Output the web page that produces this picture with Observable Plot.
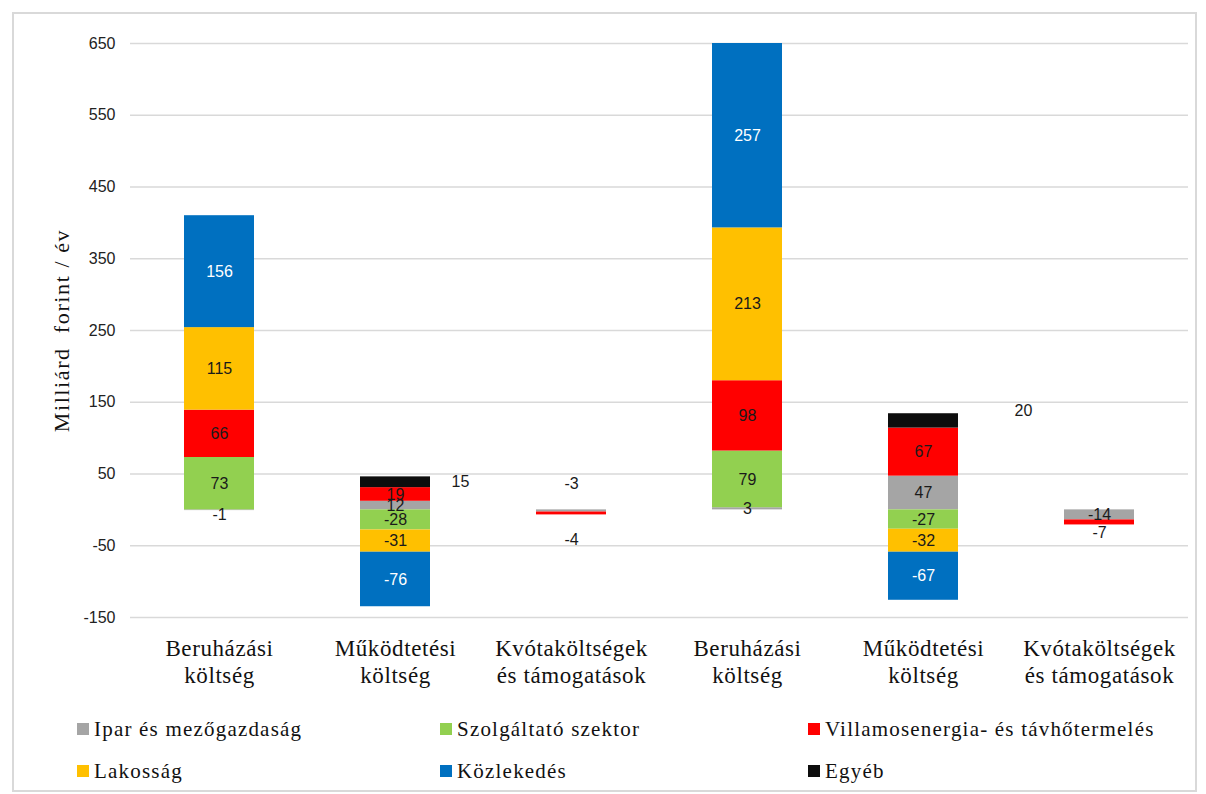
<!DOCTYPE html>
<html><head><meta charset="utf-8">
<script src="https://cdn.jsdelivr.net/npm/d3@7"></script>
<script src="https://cdn.jsdelivr.net/npm/@observablehq/plot@0.6"></script>
<style>
body{margin:0;background:#fff;}
#frame{position:absolute;left:12px;top:12px;width:1181px;height:776px;border:2px solid #d9d9d9;}
#chart{position:absolute;left:0;top:0;}
.legend{position:absolute;font-family:"Liberation Serif",serif;font-size:21px;letter-spacing:1.2px;color:#111;display:flex;align-items:center;line-height:24px;}
.legend span.sw{display:inline-block;width:12px;height:12px;margin-right:5px;}
.ylab text{letter-spacing:1.6px;white-space:pre;}
.xax text{letter-spacing:0.6px;}
</style></head>
<body>
<div id="frame"></div>
<div id="chart"></div>
<div id="legend"></div>
<script>
const groupLabels = ["Beruházási\nköltség","Működtetési\nköltség","Kvótaköltségek\nés támogatások","Beruházási\nköltség","Működtetési\nköltség","Kvótaköltségek\nés támogatások"];
const seriesNames = ["Ipar és mezőgazdaság","Szolgáltató szektor","Villamosenergia- és távhőtermelés","Lakosság","Közlekedés","Egyéb"];
const seriesColors = ["#A5A5A5","#92D050","#FF0000","#FFC000","#0070C0","#0D0D0D"];
const ipar       = [-1, 12, -3, 3, 47, -14];
const szolg      = [73, -28, 0, 79, -27, 0];
const villamos   = [66, 19, -4, 98, 67, -7];
const lakossag   = [115, -31, 0, 213, -32, 0];
const kozlekedes = [156, -76, 0, 257, -67, 0];
const egyeb      = [0, 15, 0, 0, 20, 0];
const yTicks = [-150,-50,50,150,250,350,450,550,650];

const seriesValues = [ipar, szolg, villamos, lakossag, kozlekedes, egyeb];
const data = [];
seriesNames.forEach((s, si) => seriesValues[si].forEach((v, gi) => {
  if (v !== 0) data.push({g: gi, series: s, value: v});
}));

const key = (g, s) => d => d.g === g && d.series === seriesNames[s];
const specials = [
  {f: key(0,0), dx: 0, dy: 5},
  {f: key(1,5), dx: 65, dy: 0},
  {f: key(2,0), dx: 0, dy: -27},
  {f: key(2,2), dx: 0, dy: 26},
  {f: key(4,5), dx: 100, dy: -10},
  {f: key(5,2), dx: 0, dy: 10}
];
const isSpecial = d => specials.some(s => s.f(d));
const labelColor = d => d.series === "Közlekedés" ? "white" : "#1a1a1a";

const textOpts = {x: "g", y: "value", z: "series", fontSize: 16, fontFamily: "Liberation Sans, sans-serif", order: seriesNames};

const chart = Plot.plot({
  width: 1206, height: 700,
  marginTop: 43, marginBottom: 83, marginLeft: 130, marginRight: 18,
  x: {domain: d3.range(6), paddingInner: 0.6, paddingOuter: 0.3},
  y: {domain: [-150, 650]},
  color: {domain: seriesNames, range: seriesColors},
  style: {fontFamily: "Liberation Sans, sans-serif"},
  marks: [
    Plot.gridY(yTicks, {stroke: "#d9d9d9", strokeOpacity: 1, strokeWidth: 1.3}),
    Plot.axisY(yTicks, {tickSize: 0, tickPadding: 15, fontSize: 16, fill: "#222", label: null, tickFormat: d => String(d)}),
    Plot.axisX({className: "xax", tickSize: 0, tickPadding: 19, fontSize: 23, fontFamily: "Liberation Serif, serif", fill: "#111", lineHeight: 1.17, tickFormat: i => groupLabels[i], label: null}),
    Plot.barY(data, {x: "g", y: "value", fill: "series", order: seriesNames}),
    Plot.text(data, Plot.stackY({...textOpts, text: d => isSpecial(d) ? "" : String(d.value), fill: d => labelColor(d)})),
    ...specials.map(s => Plot.text(data, Plot.stackY({...textOpts, text: d => s.f(d) ? String(d.value) : "", fill: "#1a1a1a", dx: s.dx, dy: s.dy}))),
    Plot.text(["Milliárd  forint / év"], {className: "ylab", frameAnchor: "left", textAnchor: "middle", dx: -69, dy: 0, rotate: -90, fontSize: 22, fontFamily: "Liberation Serif, serif", fill: "#111"})
  ]
});
document.getElementById("chart").appendChild(chart);

const legendPos = [[77,717],[440,717],[808,717],[77,759],[440,759],[808,759]];
const lg = document.getElementById("legend");
seriesNames.forEach((s, i) => {
  const div = document.createElement("div");
  div.className = "legend";
  div.style.left = legendPos[i][0] + "px";
  div.style.top = legendPos[i][1] + "px";
  div.innerHTML = `<span class="sw" style="background:${seriesColors[i]}"></span>${s}`;
  lg.appendChild(div);
});
</script>
</body></html>
